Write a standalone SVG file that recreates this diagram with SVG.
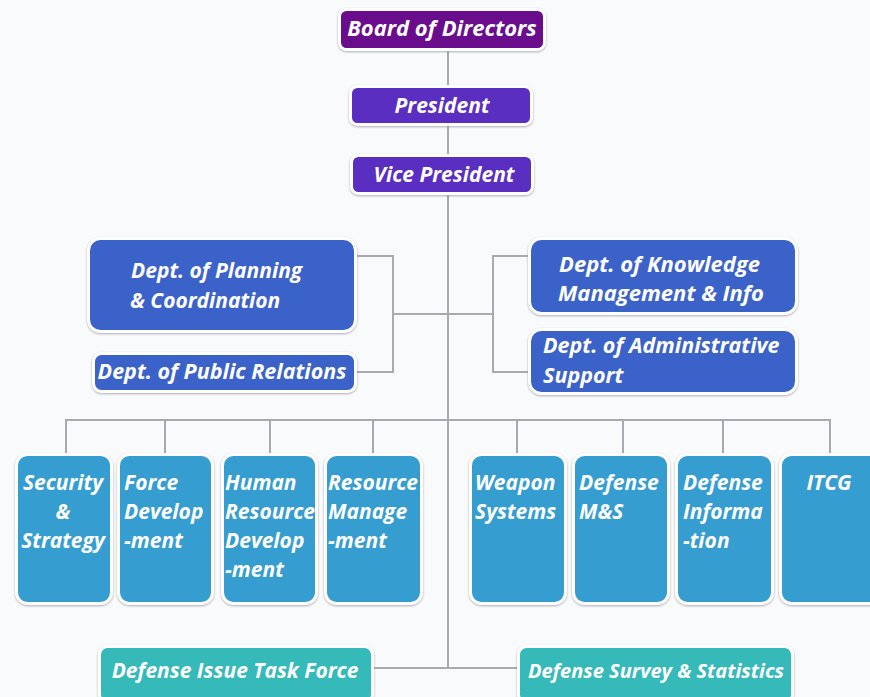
<svg xmlns="http://www.w3.org/2000/svg" width="870" height="697" viewBox="0 0 870 697">
<defs>
<filter id="sh" x="-10%" y="-10%" width="120%" height="120%">
<feDropShadow dx="0" dy="1" stdDeviation="1.2" flood-color="#8a8a99" flood-opacity="0.7"/>
</filter>
</defs>
<style>
.box{stroke:#ffffff;stroke-width:3;filter:url(#sh)}
.c1{fill:#690d8d}
.c2{fill:#5a2dc1}
.c3{fill:#3b62c9}
.c4{fill:#359dcf}
.c5{fill:#35b9b9}
text{font-family:"Open Sans",Lato,"Liberation Sans",sans-serif;font-weight:bold;font-style:italic;fill:#ffffff;font-size:21px}
.mid{text-anchor:middle}
.big{font-size:22px}
.sm{font-size:20px}
#connectors line{stroke:#a9a9b2;stroke-width:2;fill:none}
</style>
<rect x="0" y="0" width="870" height="697" fill="#f9fafb"/>
<g id="connectors">
<line x1="448" y1="50" x2="448" y2="86"/>
<line x1="448" y1="125" x2="448" y2="155"/>
<line x1="448" y1="194" x2="448" y2="668"/>
<line x1="448" y1="314" x2="393" y2="314"/>
<line x1="393" y1="255" x2="393" y2="373"/>
<line x1="356" y1="256" x2="394" y2="256"/>
<line x1="356" y1="372" x2="394" y2="372"/>
<line x1="448" y1="314" x2="493" y2="314"/>
<line x1="493" y1="255" x2="493" y2="373"/>
<line x1="492" y1="256" x2="530" y2="256"/>
<line x1="492" y1="372" x2="530" y2="372"/>
<line x1="65" y1="420" x2="831" y2="420"/>
<line x1="66" y1="420" x2="66" y2="455"/>
<line x1="165" y1="420" x2="165" y2="455"/>
<line x1="270" y1="420" x2="270" y2="455"/>
<line x1="373" y1="420" x2="373" y2="455"/>
<line x1="517" y1="420" x2="517" y2="455"/>
<line x1="623" y1="420" x2="623" y2="455"/>
<line x1="723" y1="420" x2="723" y2="455"/>
<line x1="830" y1="420" x2="830" y2="455"/>
<line x1="373" y1="668" x2="518" y2="668"/>
</g>
<g id="board">
<rect class="box c1" x="339.5" y="9.5" width="205" height="40" rx="7"/>
<text class="mid big" x="442" y="36">Board of Directors</text>
</g>
<g id="president">
<rect class="box c2" x="350.5" y="86.5" width="181" height="38" rx="7"/>
<text class="mid" x="442" y="113">President</text>
</g>
<g id="vice-president">
<rect class="box c2" x="351.5" y="155.5" width="181" height="38" rx="7"/>
<text class="mid" x="444" y="182">Vice President</text>
</g>
<g id="planning">
<rect class="box c3" x="88.5" y="238.5" width="267" height="93" rx="12"/>
<text x="131" y="278">Dept. of Planning</text>
<text x="130" y="308">&amp; Coordination</text>
</g>
<g id="public-relations">
<rect class="box c3" x="93.5" y="353.5" width="262" height="38" rx="8"/>
<text class="mid" x="222" y="379" style="font-size:21.5px">Dept. of Public Relations</text>
</g>
<g id="knowledge">
<rect class="box c3" x="529.5" y="238.5" width="267" height="75" rx="12"/>
<text class="big" x="559" y="272">Dept. of Knowledge</text>
<text class="big" x="558" y="301">Management &amp; Info</text>
</g>
<g id="administrative">
<rect class="box c3" x="529.5" y="329.5" width="267" height="64" rx="12"/>
<text x="543" y="353" style="font-size:21.5px">Dept. of Administrative</text>
<text x="543" y="383" style="font-size:21.5px">Support</text>
</g>
<g id="security">
<rect class="box c4" x="16.5" y="454.5" width="95" height="149" rx="11"/>
<text class="mid" x="63" y="490">Security</text>
<text class="mid" x="63" y="519">&amp;</text>
<text class="mid" x="63" y="548">Strategy</text>
</g>
<g id="force">
<rect class="box c4" x="118.5" y="454.5" width="94" height="149" rx="11"/>
<text x="124" y="490">Force</text>
<text x="124" y="519">Develop</text>
<text x="124" y="548">-ment</text>
</g>
<g id="human-resource">
<rect class="box c4" x="222.5" y="454.5" width="94" height="149" rx="11"/>
<text x="225" y="490">Human</text>
<text x="225" y="519">Resource</text>
<text x="225" y="548">Develop</text>
<text x="225" y="577">-ment</text>
</g>
<g id="resource-management">
<rect class="box c4" x="325.5" y="454.5" width="96" height="149" rx="11"/>
<text x="328" y="490">Resource</text>
<text x="328" y="519">Manage</text>
<text x="328" y="548">-ment</text>
</g>
<g id="weapon">
<rect class="box c4" x="470.5" y="454.5" width="95" height="149" rx="11"/>
<text x="475" y="490">Weapon</text>
<text x="475" y="519">Systems</text>
</g>
<g id="defense-ms">
<rect class="box c4" x="573.5" y="454.5" width="95" height="149" rx="11"/>
<text x="579" y="490">Defense</text>
<text x="579" y="519">M&amp;S</text>
</g>
<g id="defense-information">
<rect class="box c4" x="676.5" y="454.5" width="96" height="149" rx="11"/>
<text x="683" y="490">Defense</text>
<text x="683" y="519">Informa</text>
<text x="683" y="548">-tion</text>
</g>
<g id="itcg">
<rect class="box c4" x="780.5" y="454.5" width="100" height="149" rx="11"/>
<text class="mid" x="829" y="490">ITCG</text>
</g>
<g id="task-force">
<rect class="box c5" x="99.5" y="646.5" width="273" height="56" rx="8"/>
<text class="mid" x="235" y="678">Defense Issue Task Force</text>
</g>
<g id="survey">
<rect class="box c5" x="518.5" y="646.5" width="274" height="56" rx="8"/>
<text class="mid sm" x="656" y="678">Defense Survey &amp; Statistics</text>
</g>
</svg>
